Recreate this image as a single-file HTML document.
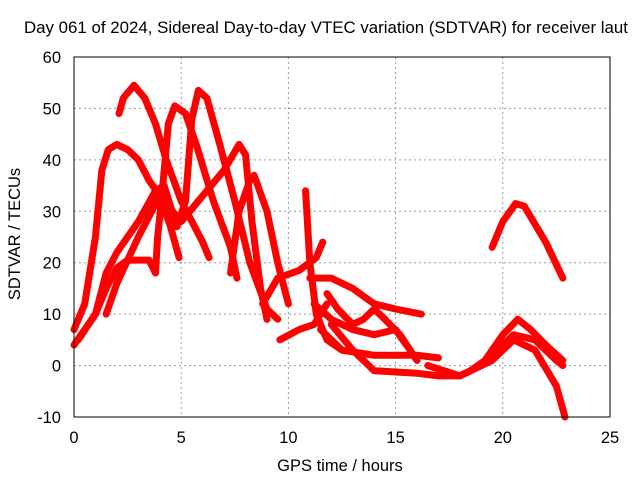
<!DOCTYPE html>
<html><head><meta charset="utf-8"><style>
body{margin:0;background:#fff}
svg{display:block;font-family:"Liberation Sans",sans-serif;font-size:16.5px}
</style></head><body>
<svg id="chart" width="640" height="480">
<text x="326" y="33" text-anchor="middle" textLength="604" lengthAdjust="spacingAndGlyphs">Day 061 of 2024, Sidereal Day-to-day VTEC variation (SDTVAR) for receiver laut</text>
<g id="grid"></g>
<g id="series"></g>
<rect x="74" y="57" width="536" height="360" fill="none" stroke="#000"/>
<g id="ticks"></g>
<text x="340" y="471" text-anchor="middle">GPS time / hours</text>
<text transform="translate(20,234) rotate(-90)" text-anchor="middle">SDTVAR / TECUs</text>
</svg>
<script>
const xTicks=[0,5,10,15,20,25];
const yTicks=[-10,0,10,20,30,40,50,60];
const s1=[[0,7],[0.5,12],[1,25],[1.3,38],[1.6,42],[2,43],[2.5,42],[3,40],[3.5,36],[4,33],[4.5,27],[4.9,21]];
const s2=[[2.1,49],[2.3,52],[2.8,54.5],[3.3,52],[3.8,47],[4.3,40],[5,32],[6,24],[6.3,21]];
const s3=[[0.2,5],[1,10],[1.5,15],[2,19],[2.5,20.5],[3.5,20.5],[3.8,18],[3.9,25],[4.1,33],[4.4,47],[4.7,50.5],[5.2,49],[5.7,43],[6.5,32],[7.3,23],[7.6,17]];
const s4=[[0,4],[1,10],[1.5,18],[2,22],[3,28],[3.8,34],[4.2,35],[4.8,27],[5.2,32],[5.5,48],[5.8,53.5],[6.2,52],[6.8,43],[7.5,32],[8.2,20],[9,11],[9.5,9]];
const s5=[[1.5,10],[2,16],[3,25],[4,33],[5,28],[6,33],[7,38],[7.7,43],[8,41],[8.3,28],[8.7,15],[9,9]];
const s6=[[7.3,18],[7.7,30],[8.2,36],[8.4,37],[9,30],[9.5,20],[10,12]];
const s7=[[10.8,34],[11,20],[11.3,10],[11.8,5],[12.5,3]];
const s8=[[9.6,5],[10.5,7],[11.2,8],[11.8,12]];
const s9=[[8.8,12],[9.5,17],[10.5,18.5],[11.3,21],[11.6,24]];
const s10=[[11,17],[12,17],[13,15],[14,12],[15,11],[16.2,10]];
const s11=[[11.2,12],[12,9],[13,7],[14,6],[15,7],[15.5,4]];
const s12=[[11.5,7],[12.5,3],[14,2],[15,2],[16,2],[17,1.5]];
const s13=[[12,8],[13,3],[14,-1],[16,-1.5],[17,-2],[18,-2],[18.5,-1],[19.5,2],[20.5,6],[21.5,5],[22.5,1],[22.8,0]];
const s14=[[16.5,0],[18,-2],[19,0],[20,6],[20.7,9],[21.3,7],[22,4],[22.8,1]];
const s15=[[19.5,23],[20,28],[20.6,31.5],[21,31],[22,24],[22.8,17]];
const s16=[[18,-2],[19.5,1],[20.5,5],[21.5,3],[22.5,-4],[22.9,-10]];
const s17=[[11.8,14],[12.3,11],[13,8],[13.5,9],[14,11],[14.5,9],[15.2,6],[16,1]];
const allSeries=[s1,s2,s3,s4,s5,s6,s7,s8,s9,s10,s11,s12,s13,s14,s15,s16,s17];
const NS="http://www.w3.org/2000/svg";
const X=v=>74+v*536/25, Y=v=>417-(v+10)*360/70;
const grid=document.getElementById('grid'),ticks=document.getElementById('ticks'),ser=document.getElementById('series');
function mk(t,a,p){const e=document.createElementNS(NS,t);for(const k in a)e.setAttribute(k,a[k]);p.appendChild(e);return e;}
xTicks.forEach(t=>{
 if(t>0&&t<25){const l=mk('line',{x1:X(t),x2:X(t),y1:57,y2:417,stroke:'#999','stroke-dasharray':'2,3'},grid);
 
 }
 const tx=mk('text',{x:X(t),y:443,'text-anchor':'middle'},ticks);tx.textContent=t;
 
 
});
yTicks.forEach(t=>{
 if(t>-10&&t<60){const l=mk('line',{x1:74,x2:610,y1:Y(t),y2:Y(t),stroke:'#999','stroke-dasharray':'2,3'},grid);
 
 }
 const tx=mk('text',{x:61,y:Y(t)+6,'text-anchor':'end'},ticks);tx.textContent=t;
 
 
});
allSeries.forEach((s,i)=>{
 const p=mk('polyline',{points:s.map(d=>X(d[0])+','+Y(d[1])).join(' '),fill:'none',stroke:'#f00','stroke-width':7,'stroke-linejoin':'round','stroke-linecap':'round'},ser);
 
 
});
</script>
</body></html>
